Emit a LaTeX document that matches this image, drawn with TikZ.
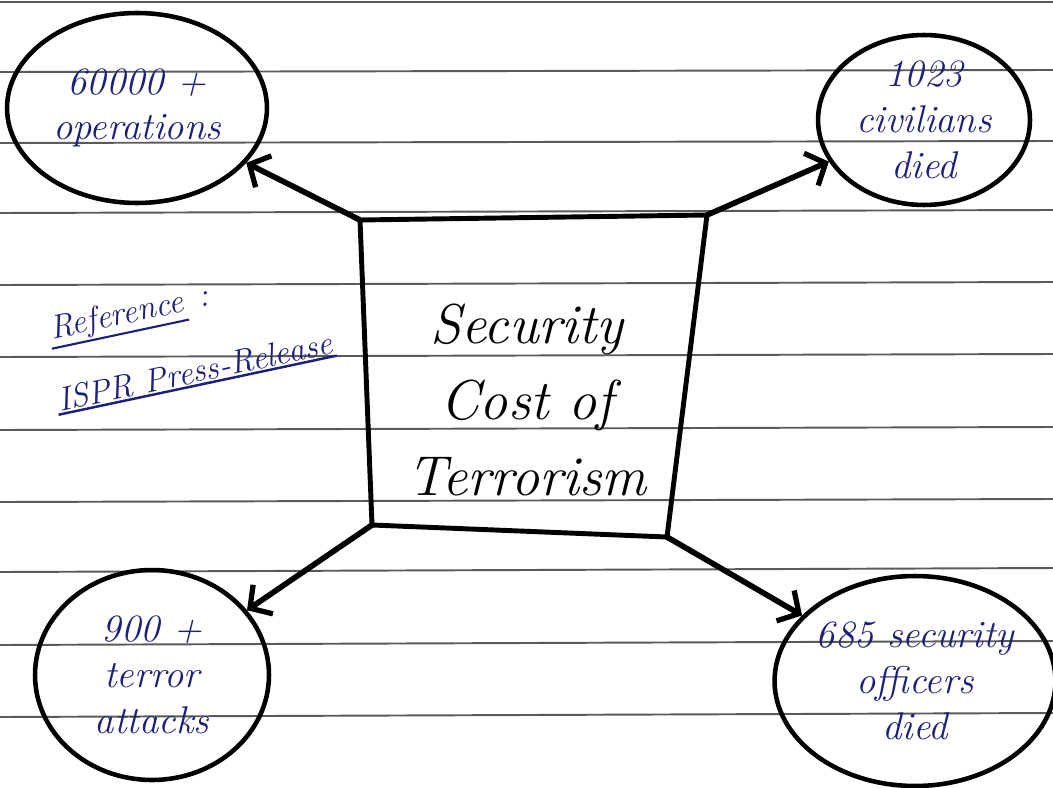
\documentclass[tikz,border=0pt]{standalone}
\usepackage{tikz}
\usetikzlibrary{shapes.geometric}
\usetikzlibrary{arrows.meta}
\usetikzlibrary{positioning}

\definecolor{inkblue}{RGB}{28,32,120}
\definecolor{ruleline}{RGB}{90,90,90}

\tikzset{
  bubble/.style={ellipse,draw,line width=2.6pt,inner sep=0pt,align=center,text=inkblue,font=\itshape\fontsize{22}{26}\selectfont},
  ruled/.style={draw=ruleline,line width=1.1pt},
  frame/.style={draw,line width=2.8pt,line join=round},
  note/.style={rotate=12,inner sep=1pt,text=inkblue,font=\itshape\fontsize{19}{22}\selectfont},
  link/.style={line width=3.2pt,line cap=round,-{Straight Barb[length=9pt,width=20pt,line width=3pt]}}
}

\begin{document}
\begin{tikzpicture}[x=0.02cm,y=-0.02cm]

\useasboundingbox[fill=white] (0,0) rectangle (1053,787);

\draw[ruled] (0,2) -- (1053,2);
\draw[ruled] (0,72) -- (1053,70);
\draw[ruled] (0,143) -- (1053,141);
\draw[ruled] (0,213) -- (1053,210);
\draw[ruled] (0,285) -- (1053,282);
\draw[ruled] (0,357) -- (1053,354);
\draw[ruled] (0,430) -- (1053,427);
\draw[ruled] (0,502) -- (1053,499);
\draw[ruled] (0,572) -- (1053,568);
\draw[ruled] (0,645) -- (1053,641);
\draw[ruled] (0,717) -- (1053,713);

\coordinate (nw) at (360,220);
\coordinate (ne) at (707,215);
\coordinate (se) at (667,537);
\coordinate (sw) at (372,525);
\draw[frame] (nw) -- (ne) -- (se) -- (sw) -- cycle;
\node[align=center,font=\itshape\fontsize{32}{43}\selectfont] (cost) at (527,400) {Security\\Cost of\\Terrorism};

\node[bubble,minimum width=5.2cm,minimum height=3.8cm] (ops) at (137,108) {60000 +\\operations};
\node[bubble,minimum width=4.24cm,minimum height=3.4cm] (civ) at (924,120) {1023\\civilians\\died};
\node[bubble,minimum width=4.68cm,minimum height=4.2cm] (att) at (152,675) {900 +\\terror\\attacks};
\node[bubble,minimum width=5.0cm,minimum height=4.2cm] (off) at (915,681) {685 security\\officers\\died};

\draw[link] (nw) -- (ops);
\draw[link] (ne) -- (civ);
\draw[link] (sw) -- (att);
\draw[link] (se) -- (off);

\node[note,anchor=base west] (refhead) at (50,340) {Reference};
\node[note,anchor=base west] (refcolon) at (refhead.base east) {~:};
\node[note,anchor=base west] (refsrc) at (58,412) {ISPR Press-Release};
\draw[inkblue,line width=1.2pt] (refhead.south west) -- (refhead.south east);
\draw[inkblue,line width=1.4pt] (refsrc.south west) -- (refsrc.south east);

\end{tikzpicture}
\end{document}
